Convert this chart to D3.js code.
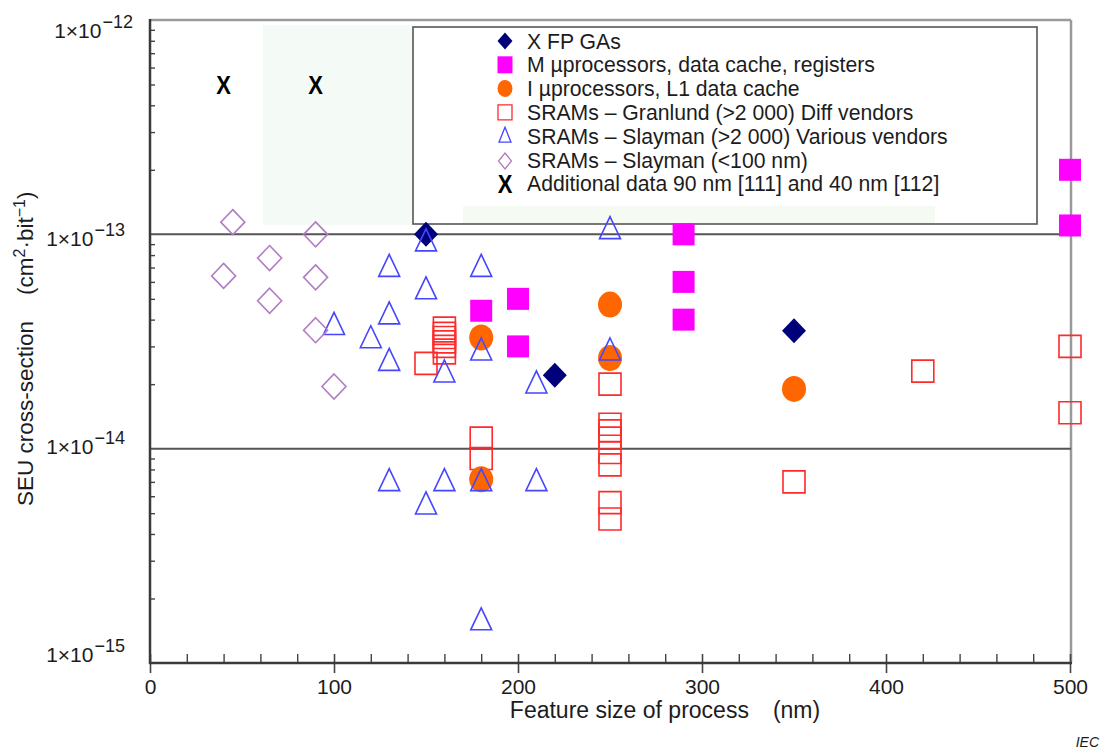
<!DOCTYPE html>
<html>
<head>
<meta charset="utf-8">
<script src="https://cdn.jsdelivr.net/npm/d3@7"></script>
<style>
  body { margin: 0; background: #fff; }
  svg { display: block; font-family: "Liberation Sans", Arial, Helvetica, sans-serif; }
</style>
</head>
<body>
<svg id="chart" width="1103" height="749"></svg>
<script>
// ---- data: feature size (nm) and SEU cross-section (cm^2 per bit) ----
const xTickValues = [0, 100, 200, 300, 400, 500];
const yTickExponents = [-15, -14, -13, -12];

const fpgaPoints = [[150, 1.0e-13], [220, 2.2e-14], [350, 3.55e-14]];
const mProcPoints = [[180, 4.4e-14], [200, 5.0e-14], [200, 3.0e-14], [290, 1.0e-13],
                     [290, 6.0e-14], [290, 4.0e-14], [500, 2.0e-13], [500, 1.1e-13]];
const iProcPoints = [[180, 3.3e-14], [180, 7.2e-15], [250, 4.7e-14], [250, 2.65e-14], [350, 1.9e-14]];
const granlundPoints = [[150, 2.5e-14],
                        [160, 3.65e-14], [160, 3.45e-14], [160, 3.3e-14], [160, 3.15e-14], [160, 3.0e-14], [160, 2.8e-14],
                        [180, 1.12e-14], [180, 9.0e-15],
                        [250, 2.0e-14], [250, 1.3e-14], [250, 1.21e-14], [250, 1.12e-14], [250, 9.6e-15], [250, 8.4e-15],
                        [250, 5.6e-15], [250, 4.7e-15],
                        [350, 7.0e-15], [420, 2.3e-14], [500, 3.0e-14], [500, 1.47e-14]];
const slaymanPoints = [[100, 3.75e-14], [120, 3.25e-14], [130, 7.0e-14], [130, 4.2e-14], [130, 2.55e-14], [130, 7.0e-15],
                       [150, 9.2e-14], [150, 5.5e-14], [150, 5.45e-15], [160, 2.25e-14], [160, 7.0e-15],
                       [180, 7.0e-14], [180, 2.85e-14], [180, 7.0e-15], [180, 1.57e-15],
                       [210, 2.0e-14], [210, 7.0e-15], [250, 1.05e-13], [250, 2.85e-14]];
const slaymanSmallPoints = [[45, 1.14e-13], [40, 6.4e-14], [65, 7.75e-14], [65, 4.9e-14],
                            [90, 1.0e-13], [90, 6.3e-14], [90, 3.57e-14], [100, 1.95e-14]];
const additionalPoints = [[40, 5.0e-13], [90, 5.0e-13]];

const legendLabels = [
  "X FP GAs",
  "M \u00b5processors, data cache, registers",
  "I \u00b5processors, L1 data cache",
  "SRAMs \u2013 Granlund (>2 000) Diff vendors",
  "SRAMs \u2013 Slayman (>2 000) Various vendors",
  "SRAMs \u2013 Slayman (<100 nm)",
  "Additional data 90 nm [111] and 40 nm [112]"
];

// ---- layout ----
const svg = d3.select("#chart");
const x = d3.scaleLinear().domain([0, 500]).range([150, 1070]);
const y = d3.scaleLog().domain([1e-15, 1e-12]).range([663, 20]);
// tick labels sit on a slightly tighter baseline grid than the ticks themselves
const yLabel = d3.scaleLog().domain([1e-15, 1e-12]).range([662, 38]);

const COL = {
  fpga: "#00007a", mproc: "#ff00ff", iproc: "#ff6600",
  granlund: "#ff2a2a", slayman: "#4646ff", slaymanSmall: "#b27cc4", text: "#1c1c1c"
};

// marker shapes
const squarePath = s => `M${-s/2},${-s/2}h${s}v${s}h${-s}Z`;
const diamondPath = (w, h) => `M0,${-h}L${w},0L0,${h}L${-w},0Z`;
const trianglePath = (w, h) => `M0,${-h*0.6}L${w/2},${h*0.4}L${-w/2},${h*0.4}Z`;
const boldX = sel => sel.attr("font-size", 25).attr("font-weight", "bold")
  .attr("font-family", "Liberation Sans, Arial, sans-serif").attr("fill", "#000").text("X");

// faint tinted patches in the background
svg.append("rect").attr("x", 263).attr("y", 25).attr("width", 150).attr("height", 200)
  .attr("fill", "#f4fbf6");

// ---- frame and grid ----
const frame = svg.append("g");
frame.append("line").attr("x1", 150).attr("x2", 1071).attr("y1", 20).attr("y2", 20)
  .attr("stroke", "#9a9a9a").attr("stroke-width", 2.5);
frame.append("line").attr("x1", 1071).attr("x2", 1071).attr("y1", 20).attr("y2", 663)
  .attr("stroke", "#9a9a9a").attr("stroke-width", 2.5);

frame.selectAll("line.grid").data([1e-14, 1e-13]).join("line").attr("class", "grid")
  .attr("x1", 150).attr("x2", 1071)
  .attr("y1", d => y(d)).attr("y2", d => y(d))
  .attr("stroke", "#555").attr("stroke-width", 2);

// legend box (drawn before marks so edge markers sit above it)
svg.append("rect").attr("x", 413).attr("y", 27).attr("width", 624).attr("height", 197)
  .attr("fill", "#fff").attr("stroke", "#555").attr("stroke-width", 1.6);
svg.append("rect").attr("x", 463).attr("y", 206).attr("width", 472).attr("height", 17)
  .attr("fill", "#f5faf2");

// x axis: minor ticks upward every 20 nm, major ticks crossing the axis
const xMinor = d3.range(0, 501, 20).filter(v => v % 100 !== 0);
svg.append("g").attr("transform", "translate(0,663)")
  .call(d3.axisBottom(x).tickValues(xMinor).tickSize(-9).tickFormat(""))
  .call(g => g.select(".domain").remove())
  .call(g => g.selectAll("line").attr("stroke", "#444").attr("stroke-width", 1.4));
svg.append("g").attr("transform", "translate(0,663)")
  .call(d3.axisBottom(x).tickValues(xTickValues).tickSize(10).tickPadding(6))
  .call(g => g.select(".domain").remove())
  .call(g => g.selectAll("line").attr("y1", -9).attr("stroke", "#444").attr("stroke-width", 1.6))
  .call(g => g.selectAll("text").attr("font-size", 21).attr("fill", COL.text)
    .attr("font-family", "Liberation Sans, Arial, sans-serif"));

// y axis minor ticks (2..9 per decade), pointing inward
const yMinor = [];
[-15, -14, -13].forEach(e => { for (let k = 2; k <= 9; k++) yMinor.push(k * Math.pow(10, e)); });
svg.append("g").attr("transform", "translate(150,0)")
  .call(d3.axisRight(y).tickValues(yMinor).tickSize(5).tickFormat(""))
  .call(g => g.select(".domain").remove())
  .call(g => g.selectAll("line").attr("stroke", "#444").attr("stroke-width", 1.4));

// axis lines
svg.append("line").attr("x1", 150).attr("x2", 150).attr("y1", 19).attr("y2", 664)
  .attr("stroke", "#3a3a3a").attr("stroke-width", 2.5);
svg.append("line").attr("x1", 149).attr("x2", 1072).attr("y1", 663).attr("y2", 663)
  .attr("stroke", "#3a3a3a").attr("stroke-width", 2.5);

// y tick labels: 1×10^n
const yLab = svg.append("g").attr("fill", COL.text);
yTickExponents.forEach(e => {
  const t = yLab.append("text").attr("x", e === -12 ? 133 : 125).attr("y", yLabel(Math.pow(10, e)))
    .attr("text-anchor", "end").attr("font-size", 21);
  t.append("tspan").text("1\u00d710");
  t.append("tspan").attr("dx", 1).attr("dy", -10).attr("font-size", 18).text("\u2212" + Math.abs(e));
});

// axis titles
const xt = svg.append("text").attr("x", 665).attr("y", 718).attr("text-anchor", "middle")
  .attr("font-size", 23).attr("fill", COL.text);
xt.append("tspan").text("Feature size of process");
xt.append("tspan").attr("dx", 24).text("(nm)");

const yt = svg.append("text").attr("transform", "translate(33,506) rotate(-90)")
  .attr("font-size", 22.5).attr("fill", COL.text);
yt.append("tspan").text("SEU cross-section");
yt.append("tspan").attr("dx", 26).text("(cm");
yt.append("tspan").attr("dy", -8).attr("font-size", 16).text("2");
yt.append("tspan").attr("dy", 8).text("\u00b7bit");
yt.append("tspan").attr("dy", -8).attr("font-size", 16).text("\u22121");
yt.append("tspan").attr("dy", 8).text(")");

svg.append("text").attr("x", 1099).attr("y", 747).attr("text-anchor", "end")
  .attr("font-size", 14).attr("font-style", "italic").attr("fill", COL.text).text("IEC");

// ---- data marks ----
const marks = svg.append("g");

marks.append("g").selectAll("path").data(granlundPoints).join("path")
  .attr("transform", d => `translate(${x(d[0])},${y(d[1])})`)
  .attr("d", squarePath(22)).attr("fill", "none")
  .attr("stroke", COL.granlund).attr("stroke-width", 1.6);

marks.append("g").selectAll("path").data(mProcPoints).join("path")
  .attr("transform", d => `translate(${x(d[0])},${y(d[1])})`)
  .attr("d", squarePath(22)).attr("fill", COL.mproc);

marks.append("g").selectAll("ellipse").data(iProcPoints).join("ellipse")
  .attr("cx", d => x(d[0])).attr("cy", d => y(d[1]))
  .attr("rx", 12).attr("ry", 13).attr("fill", COL.iproc);

marks.append("g").selectAll("path").data(fpgaPoints).join("path")
  .attr("transform", d => `translate(${x(d[0])},${y(d[1])})`)
  .attr("d", diamondPath(12, 12.5)).attr("fill", COL.fpga);

marks.append("g").selectAll("path").data(slaymanPoints).join("path")
  .attr("transform", d => `translate(${x(d[0])},${y(d[1])})`)
  .attr("d", trianglePath(21, 22)).attr("fill", "none")
  .attr("stroke", COL.slayman).attr("stroke-width", 1.6).attr("stroke-linejoin", "miter");

marks.append("g").selectAll("path").data(slaymanSmallPoints).join("path")
  .attr("transform", d => `translate(${x(d[0])},${y(d[1])})`)
  .attr("d", diamondPath(12, 12.5)).attr("fill", "none")
  .attr("stroke", COL.slaymanSmall).attr("stroke-width", 1.6);

marks.append("g").selectAll("text").data(additionalPoints).join("text")
  .attr("transform", d => `translate(${x(d[0])},${y(d[1]) + 9}) scale(0.88,1)`)
  .attr("text-anchor", "middle").call(boldX);

// ---- legend ----
const legend = svg.append("g");
const rowY = i => 41 + i * 23.8;
const mx = 505;
legend.append("path").attr("transform", `translate(${mx},${rowY(0)})`)
  .attr("d", diamondPath(7.5, 8.5)).attr("fill", COL.fpga);
legend.append("path").attr("transform", `translate(${mx},${rowY(1)})`)
  .attr("d", `M-7.5,-8.5h15v17h-15Z`).attr("fill", COL.mproc);
legend.append("ellipse").attr("cx", mx).attr("cy", rowY(2)).attr("rx", 7.5).attr("ry", 8.5)
  .attr("fill", COL.iproc);
legend.append("path").attr("transform", `translate(${mx},${rowY(3)})`)
  .attr("d", `M-7,-7.5h14v15h-14Z`).attr("fill", "none")
  .attr("stroke", COL.granlund).attr("stroke-width", 1.3);
legend.append("path").attr("transform", `translate(${mx},${rowY(4)})`)
  .attr("d", trianglePath(12, 15)).attr("fill", "none")
  .attr("stroke", COL.slayman).attr("stroke-width", 1.3);
legend.append("path").attr("transform", `translate(${mx},${rowY(5) + 1})`)
  .attr("d", diamondPath(6.5, 8)).attr("fill", "none")
  .attr("stroke", COL.slaymanSmall).attr("stroke-width", 1.3);
legend.append("text").attr("transform", `translate(${mx},${rowY(6) + 9}) scale(0.88,1)`)
  .attr("text-anchor", "middle").call(boldX);

legend.selectAll("text.lab").data(legendLabels).join("text").attr("class", "lab")
  .attr("x", 527).attr("y", (d, i) => rowY(i) + 7.5)
  .attr("font-size", 21.2).attr("fill", COL.text).text(d => d);
</script>
</body>
</html>
